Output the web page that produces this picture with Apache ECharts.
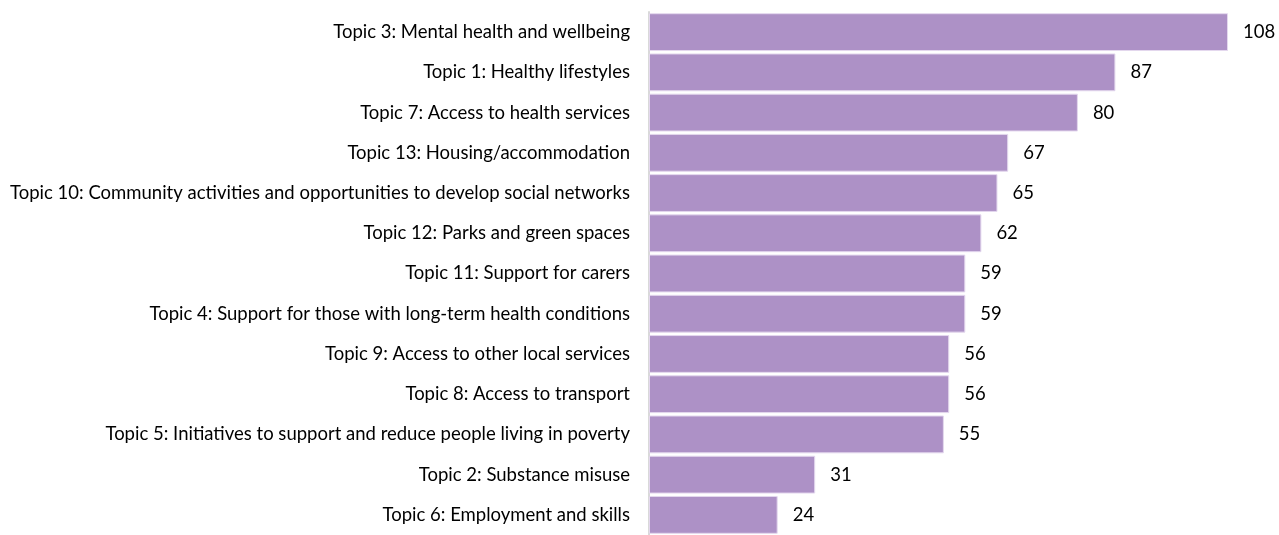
<!DOCTYPE html>
<html>
<head>
<meta charset="utf-8">
<script src="https://cdn.jsdelivr.net/npm/echarts@6/dist/echarts.min.js"></script>
<style>
  html, body { margin: 0; padding: 0; background: #fff; }
  #chart { width: 1279px; height: 535px; }
</style>
</head>
<body>
<div id="chart"></div>
<script>
// Topics, listed top to bottom
const topics = [
  'Topic 3: Mental health and wellbeing',
  'Topic 1: Healthy lifestyles',
  'Topic 7: Access to health services',
  'Topic 13: Housing/accommodation',
  'Topic 10: Community activities and opportunities to develop social networks',
  'Topic 12: Parks and green spaces',
  'Topic 11: Support for carers',
  'Topic 4: Support for those with long-term health conditions',
  'Topic 9: Access to other local services',
  'Topic 8: Access to transport',
  'Topic 5: Initiatives to support and reduce people living in poverty',
  'Topic 2: Substance misuse',
  'Topic 6: Employment and skills'
];
// Number of responses per topic
const counts = [108, 87, 80, 67, 65, 62, 59, 59, 56, 56, 55, 31, 24];

const FONT = 'Lato';
const chart = echarts.init(document.getElementById('chart'), null, { renderer: 'canvas' });
chart.setOption({
  animation: false,
  grid: { left: 649, top: 12, width: 579, height: 529, containLabel: false },
  xAxis: {
    type: 'value', min: 0, max: 108,
    show: false
  },
  yAxis: {
    type: 'category',
    inverse: true,
    data: topics,
    axisLine: { show: true, lineStyle: { color: '#d9d9d9', width: 2 } },
    axisTick: { show: false },
    axisLabel: { margin: 19, color: '#000', fontFamily: FONT, fontSize: 18.5 }
  },
  series: [{
    type: 'bar',
    data: counts,
    barCategoryGap: '6%',
    itemStyle: { color: '#ad91c6', borderColor: '#e4d8ee', borderWidth: 1 },
    label: {
      show: true, position: 'right', distance: 15,
      color: '#000', fontFamily: FONT, fontSize: 18.5
    }
  }]
});
</script>
</body>
</html>
